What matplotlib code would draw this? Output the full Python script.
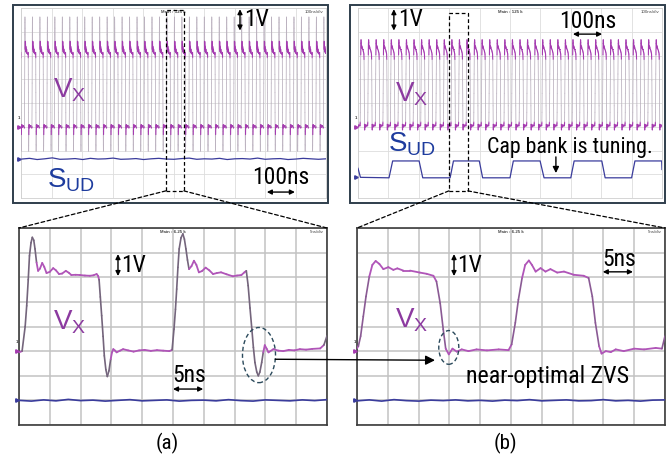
import numpy as np
import matplotlib.pyplot as plt
from matplotlib.patches import Rectangle, Ellipse, ConnectionPatch
from matplotlib.collections import LineCollection
from matplotlib.colors import to_rgba

NARROW = ['Roboto Condensed', 'Liberation Sans', 'DejaVu Sans']
REGULAR = ['Liberation Sans', 'DejaVu Sans']
plt.rcParams['font.family'] = NARROW

W, H = 671, 462

# 5 ns/div captures, V relative to the low rail of Vx (1 V/div)
t_a = [0.0, 0.5, 1.0, 1.25, 1.5, 1.7, 1.95, 2.16, 2.4, 2.6,
       2.85, 3.1, 3.4, 3.77, 4.1, 4.47, 5.0, 5.55, 6.0, 6.5,
       7.0, 7.6, 8.1, 8.5, 9.2, 9.9, 10.7, 11.5, 12.1, 12.6,
       12.85, 13.0, 13.2, 13.42, 13.65, 13.85, 14.1, 14.34, 14.6, 14.88,
       15.1, 15.31, 15.6, 15.85, 16.4, 16.9, 17.7, 18.6, 19.5, 20.4,
       21.4, 22.4, 23.4, 24.4, 24.85, 25.16, 25.4, 25.6, 25.8, 26.0,
       26.3, 26.6, 26.85, 27.1, 27.35, 27.6, 28.0, 28.4, 28.8, 29.2,
       29.7, 30.3, 30.9, 31.5, 32.1, 32.8, 33.7, 34.7, 35.4, 36.1,
       36.6, 36.9, 37.2, 37.5, 37.8, 38.05, 38.3, 38.6, 38.85, 39.1,
       39.4, 39.65, 39.9, 40.2, 40.5, 41.3, 42.1, 42.9, 43.8, 44.7,
       45.6, 46.6, 47.6, 48.9, 49.5, 50.0]
vx_a = [-0.05, 0.0, 1.0, 1.84, 2.9, 3.87, 4.4, 4.62, 4.5, 4.15,
        3.6, 3.26, 3.35, 3.58, 3.42, 3.17, 3.22, 3.37, 3.28, 3.13,
        3.15, 3.26, 3.18, 3.09, 3.1, 3.09, 3.07, 3.06, 3.08, 3.13,
        3.05, 2.9, 2.2, 1.44, 0.6, -0.19, -0.75, -1.03, -0.8, -0.33,
        -0.05, 0.08, 0.02, -0.05, 0.02, 0.08, 0.03, -0.02, 0.03, 0.05,
        0.01, 0.04, 0.02, 0.0, 0.05, 0.89, 1.7, 2.52, 3.4, 4.15,
        4.6, 4.76, 4.55, 4.15, 3.7, 3.33, 3.45, 3.67, 3.5, 3.2,
        3.25, 3.39, 3.28, 3.13, 3.17, 3.2, 3.12, 3.04, 3.07, 3.09,
        3.2, 3.26, 2.66, 1.75, 0.89, 0.15, -0.46, -0.85, -1.0, -0.85,
        -0.46, -0.05, 0.24, 0.1, -0.05, 0.08, 0.02, 0.0, 0.05, 0.03,
        0.08, 0.06, 0.09, 0.11, 0.25, 0.62]

t_b = [0.0, 0.22, 0.59, 1.02, 1.46, 2.0, 2.49, 3.03, 3.63, 4.28,
       5.09, 5.9, 6.55, 7.53, 8.6, 10.2, 11.3, 12.4, 12.9, 13.5,
       14.0, 14.4, 14.9, 15.5, 16.2, 17.0, 18.1, 19.4, 21.1, 23.0,
       24.6, 25.1, 25.7, 26.2, 26.8, 27.3, 27.9, 28.4, 29.0, 29.8,
       30.6, 31.4, 32.5, 33.6, 35.2, 36.8, 37.6, 38.2, 38.7, 39.3,
       39.7, 40.4, 41.2, 42.0, 43.3, 45.0, 46.6, 48.5, 49.5, 50.0]
vx_b = [0.12, 0.2, 0.61, 1.41, 2.22, 3.03, 3.5, 3.66, 3.54, 3.33,
        3.41, 3.3, 3.36, 3.27, 3.27, 3.19, 3.14, 3.06, 2.83, 1.95,
        0.88, 0.1, -0.13, 0.1, -0.02, 0.07, 0.0, 0.07, 0.03, 0.07,
        0.04, 0.27, 1.15, 2.09, 2.97, 3.5, 3.68, 3.5, 3.23, 3.37,
        3.23, 3.33, 3.19, 3.23, 3.1, 3.06, 2.97, 2.22, 1.15, 0.2,
        -0.1, 0.0, -0.04, 0.07, 0.0, 0.1, 0.07, 0.13, 0.1, 0.61]

# S_UD on the 5 ns/div captures (sampled every 2 ns)
sud_a = [-2.00, -2.03, -1.98, -2.02, -1.96, -2.01, -1.99, -2.03, -2.00, -1.97,
         -2.02, -2.00, -1.98, -2.03, -2.00, -1.99, -2.02, -1.97, -2.01, -2.03,
         -1.98, -2.00, -2.02, -1.98, -2.01, -1.97]
sud_b = [-2.02, -1.98, -2.03, -1.97, -2.01, -2.03, -1.99, -2.01, -1.98, -2.02,
         -2.00, -2.03, -1.99, -2.01, -1.97, -2.02, -2.00, -1.98, -2.02, -2.01,
         -1.97, -2.02, -2.00, -2.03, -1.99, -1.98]

# 100 ns/div captures
period_a, phase_a = 24.5, 10.8
period_b, phase_b = 24.9, 7.0
sud_top_a = [-1.36, -1.33, -1.38, -1.35, -1.31, -1.37, -1.36, -1.34, -1.38, -1.33,
             -1.36, -1.35, -1.32, -1.37, -1.36, -1.34, -1.38, -1.35, -1.33, -1.36,
             -1.37, -1.34, -1.32, -1.37, -1.35, -1.36, -1.33, -1.38, -1.35, -1.34,
             -1.36, -1.32, -1.37, -1.35, -1.34, -1.38, -1.36, -1.33, -1.35, -1.37,
             -1.35]
t_sud_top_b = [0, 8, 102, 114, 201, 213, 303, 314, 399, 410, 500, 511,
               599, 612, 700, 711, 802, 813, 900, 911, 999, 1000]
v_sud_top_b = [-1.75, -2.13, -2.15, -1.44, -1.44, -2.15, -2.15, -1.44, -1.44, -2.15,
               -2.15, -1.44, -1.44, -2.15, -2.15, -1.44, -1.44, -2.15, -2.15, -1.44,
               -1.44, -1.8]

MAG = '#a53bb0'
BLUE = '#3a3c9c'


def box(x0, y0, x1, y1):
    return [x0 / W, 1 - y1 / H, (x1 - x0) / W, (y1 - y0) / H]


def screen(ax, tmax, grid_col, grid_lw, spine_col, spine_lw):
    ax.set_xlim(0, tmax)
    ax.set_ylim(-3, 5)
    ax.set_xticks(np.linspace(0, tmax, 11))
    ax.set_yticks(np.arange(-3, 6))
    ax.grid(True, color=grid_col, lw=grid_lw)
    ax.tick_params(length=0, labelbottom=False, labelleft=False)
    for s in ax.spines.values():
        s.set_color(spine_col)
        s.set_linewidth(spine_lw)


def trace(ax, t, v, lw_edge, lw_flat, edge_col, flat_col):
    # settled parts near the rails in the trace colour, transitions greyed
    t = np.asarray(t, float)
    v = np.asarray(v, float)
    pts = np.column_stack([t, v])
    segs = np.stack([pts[:-1], pts[1:]], axis=1)
    near = (np.abs(v - 3.2) < 0.5) | (np.abs(v) < 0.35)
    flat = near[:-1] & near[1:] & (np.abs(np.diff(v)) < 0.8)
    cols = [to_rgba(flat_col) if f else to_rgba(edge_col) for f in flat]
    lws = [lw_flat if f else lw_edge for f in flat]
    ax.add_collection(LineCollection(segs, colors=cols, linewidths=lws,
                                     capstyle='round', joinstyle='round', zorder=3))


def tile(t, v, period, phase, tmax):
    t = np.asarray(t, float)
    v = np.asarray(v, float)
    keep = t < period
    ts, vs = [], []
    for k in range(-1, int(tmax / period) + 2):
        ts.append(t[keep] + k * period + phase)
        vs.append(v[keep])
    return np.concatenate(ts), np.concatenate(vs)


def label(x, y, s, size, color='black', family=NARROW, ha='center', va='center'):
    fig.text(x / W, 1 - y / H, s, fontsize=size, color=color, family=family,
             ha=ha, va=va)


def span_arrow(ax, p0, p1):
    ax.annotate('', xy=p1, xytext=p0,
                arrowprops=dict(arrowstyle='<|-|>', color='black', lw=1.0,
                                shrinkA=0, shrinkB=0, mutation_scale=7))


def scope_text(ax, main, scale):
    ax.text(0.5, 0.99, main, transform=ax.transAxes, fontsize=3.2, ha='center',
            va='top', fontweight='bold', color='#444444', family=REGULAR, zorder=5)
    ax.text(0.99, 0.99, scale, transform=ax.transAxes, fontsize=3.2, ha='right',
            va='top', color='#444444', family=REGULAR, zorder=5)


fig = plt.figure(figsize=(W / 100, H / 100), dpi=100)

ax_ta = fig.add_axes(box(21, 8, 326, 198))
ax_tb = fig.add_axes(box(358, 8, 662, 198))
ax_ba = fig.add_axes(box(19, 228, 327, 425))
ax_bb = fig.add_axes(box(357, 228, 665, 425))

for ax in (ax_ta, ax_tb):
    screen(ax, 1000, '#dddddd', 0.6, '#cfcfcf', 0.6)
for ax in (ax_ba, ax_bb):
    screen(ax, 50, '#c2c2c2', 1.1, '#3c3c3c', 1.2)

# outer frames around the 100 ns/div captures
for x0, x1 in ((13, 328), (350, 665)):
    fig.add_artist(Rectangle((x0 / W, 1 - 203 / H), (x1 - x0) / W, 198 / H,
                             transform=fig.transFigure, fill=False,
                             ec='#2f3e4c', lw=1.4))

# Vx traces
ts, vs = tile(t_a, vx_a, period_a, phase_a, 1000)
trace(ax_ta, ts, vs, 0.55, 0.8, '#b9afbd', MAG)
ts, vs = tile(t_b, vx_b, period_b, phase_b, 1000)
trace(ax_tb, ts, vs, 0.55, 0.8, '#b9afbd', MAG)
trace(ax_ba, t_a, vx_a, 1.2, 1.3, '#74657c', '#b055b8')
trace(ax_bb, t_b, vx_b, 1.2, 1.3, '#8a5a94', '#b055b8')

# S_UD traces
ax_ta.plot(np.linspace(3, 1000, len(sud_top_a)), sud_top_a, color=BLUE, lw=0.9, zorder=3)
ax_tb.plot(t_sud_top_b, v_sud_top_b, color=BLUE, lw=0.9, zorder=3)
ax_ba.plot(np.linspace(0, 50, len(sud_a)), sud_a, color=BLUE, lw=1.2, zorder=3)
ax_bb.plot(np.linspace(0, 50, len(sud_b)), sud_b, color=BLUE, lw=1.2, zorder=3)

# channel markers on the left edge
for ax, x0, sud0 in ((ax_ta, -6, -1.36), (ax_tb, -6, -2.1), (ax_ba, -0.3, -2.0), (ax_bb, -0.3, -2.0)):
    ax.plot(x0, 0, marker='>', ms=2.5, color=MAG, clip_on=False, zorder=4)
    ax.plot(x0, sud0, marker='>', ms=2.5, color=BLUE, clip_on=False, zorder=4)
    ax.text(x0, 0.3, '1', fontsize=3, color='#333333', ha='center', va='bottom',
            family=REGULAR, fontweight='bold', clip_on=False)

scope_text(ax_ta, 'Main : 125 k', '100ns/div')
scope_text(ax_tb, 'Main : 125 k', '100ns/div')
scope_text(ax_ba, 'Main : 6.25 k', '5ns/div')
scope_text(ax_bb, 'Main : 6.25 k', '5ns/div')

# zoom windows and their projection onto the 5 ns/div captures
dash = dict(ls=(0, (3, 2)), lw=0.9, color='black')
for ax_top, ax_bot, t0, t1, v_top in ((ax_ta, ax_ba, 475, 534, 4.92),
                                     (ax_tb, ax_bb, 299, 361, 4.79)):
    ax_top.add_patch(Rectangle((t0, -2.7), t1 - t0, v_top + 2.7, fill=False,
                               ec='black', ls=(0, (3, 2)), lw=0.9, zorder=5))
    for tx, bx in ((t0, 0), (t1, 1)):
        fig.add_artist(ConnectionPatch(xyA=(tx, -2.7), coordsA=ax_top.transData,
                                       xyB=(bx, 1), coordsB=ax_bot.transAxes, **dash))

# ZVS comparison
ell = dict(fill=False, ec='#2b4a5c', ls=(0, (3, 2)), lw=1.0, zorder=5)
ax_ba.add_patch(Ellipse((38.96, -0.16), 5.36, 2.24, **ell))
ax_bb.add_patch(Ellipse((14.9, 0.15), 3.25, 1.37, **ell))
fig.add_artist(ConnectionPatch(xyA=(41.6, -0.33), coordsA=ax_ba.transData,
                               xyB=(12.66, -0.37), coordsB=ax_bb.transData,
                               arrowstyle='-|>', mutation_scale=14, color='black',
                               lw=1.0, shrinkA=0, shrinkB=0))

# scale arrows
span_arrow(ax_ta, (718, 4.05), (718, 4.95))
span_arrow(ax_tb, (118, 4.05), (118, 4.95))
span_arrow(ax_ba, (16.07, 3.05), (16.07, 3.94))
span_arrow(ax_bb, (15.75, 3.05), (15.75, 3.94))
span_arrow(ax_ta, (806, -2.75), (898, -2.75))
span_arrow(ax_tb, (707, 3.9), (803, 3.9))
span_arrow(ax_ba, (25.0, -1.54), (29.9, -1.54))
span_arrow(ax_bb, (39.9, 3.22), (44.8, 3.22))
ax_tb.annotate('', xy=(651, -1.95), xytext=(651, -1.27),
               arrowprops=dict(arrowstyle='-|>', color='black', lw=1.0,
                               shrinkA=0, shrinkB=0, mutation_scale=9))

# labels
label(244, 19, '1V', 17, ha='left')
label(398, 19, '1V', 17, ha='left')
label(121, 266, '1V', 17, ha='left')
label(457, 266, '1V', 17, ha='left')
label(281, 178, '100ns', 17)
label(588, 21, '100ns', 17)
label(189, 376, '5ns', 17)
label(619, 260, '5ns', 17)
label(570, 147, 'Cap bank is tuning.', 15.8)
label(548, 377, 'near-optimal ZVS', 17.3)
label(167, 443, '(a)', 15)
label(505, 443, '(b)', 15)

vx_lbl = r'$\mathregular{V_X}$'
sud_lbl = r'$\mathregular{S_{UD}}$'
label(53, 97, vx_lbl, 20, color='#8c3aa0', family=REGULAR, ha='left', va='baseline')
label(395, 101, vx_lbl, 20, color='#8c3aa0', family=REGULAR, ha='left', va='baseline')
label(53, 329, vx_lbl, 20, color='#8c3aa0', family=REGULAR, ha='left', va='baseline')
label(395, 327, vx_lbl, 20, color='#8c3aa0', family=REGULAR, ha='left', va='baseline')
label(47, 188, sud_lbl, 20, color='#1e3c9e', family=REGULAR, ha='left', va='baseline')
label(388, 152, sud_lbl, 20, color='#1e3c9e', family=REGULAR, ha='left', va='baseline')

fig.savefig('out.png', dpi=100)
